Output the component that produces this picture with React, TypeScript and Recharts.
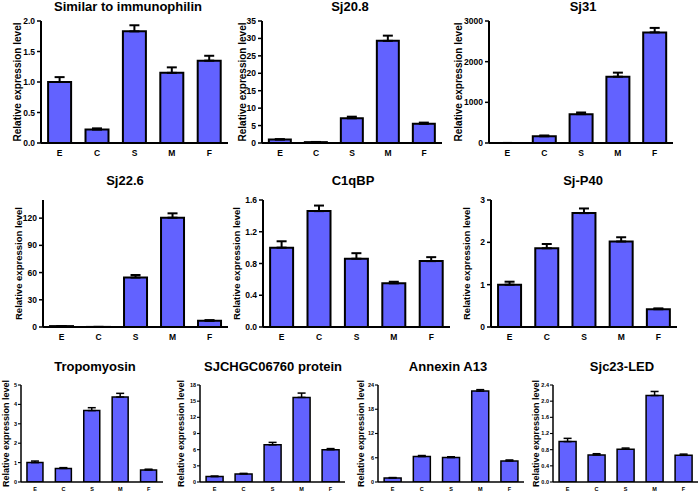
import { BarChart, Bar, XAxis, YAxis, ErrorBar } from 'recharts';

const groups = ['E', 'C', 'S', 'M', 'F'];

// mean relative expression and upper SEM
const immunophilinMean = [1.0, 0.22, 1.83, 1.15, 1.35];
const immunophilinErr = [0.08, 0.02, 0.1, 0.09, 0.08];
const sj208Mean = [1.0, 0.25, 7.1, 29.3, 5.5];
const sj208Err = [0.1, 0.05, 0.45, 1.5, 0.35];
const sj31Mean = [1, 165, 710, 1630, 2720];
const sj31Err = [0, 20, 40, 100, 110];
const sj226Mean = [1.0, 0.1, 54.5, 120.5, 6.8];
const sj226Err = [0.1, 0, 2.8, 4.8, 0.8];
const c1qbpMean = [1.0, 1.46, 0.86, 0.55, 0.83];
const c1qbpErr = [0.08, 0.07, 0.07, 0.02, 0.05];
const sjP40Mean = [1.0, 1.86, 2.69, 2.02, 0.42];
const sjP40Err = [0.07, 0.1, 0.11, 0.1, 0.02];
const tropomyosinMean = [1.0, 0.7, 3.68, 4.38, 0.62];
const tropomyosinErr = [0.08, 0.04, 0.15, 0.19, 0.04];
const sjchgcMean = [1.0, 1.5, 6.9, 15.7, 6.0];
const sjchgcErr = [0.1, 0.1, 0.45, 0.8, 0.2];
const annexinMean = [1.0, 6.3, 6.05, 22.5, 5.2];
const annexinErr = [0.1, 0.25, 0.2, 0.35, 0.25];
const sjc23Mean = [1.0, 0.67, 0.81, 2.14, 0.66];
const sjc23Err = [0.08, 0.03, 0.03, 0.1, 0.03];

const FONT = '"Liberation Sans", Arial, Helvetica, sans-serif';
const BLUE = '#6262ff';

type Box = { left: number; right: number; top: number; bottom: number };

interface PanelProps {
  title: string;
  mean: number[];
  err: number[];
  max: number;
  ticks: number[];
  digits: number;
  box: Box;
  labelX: number;
  labelSize: number;
  titleX: number;
  titleY: number;
  small?: boolean;
}

const YLabel = ({ lx, ly, size }: { lx: number; ly: number; size: number }) => (
  <text
    x={lx}
    y={ly}
    transform={`rotate(-90 ${lx} ${ly})`}
    textAnchor="middle"
    dominantBaseline="central"
    fontFamily={FONT}
    fontWeight="bold"
    fontSize={size}
    fill="#000"
  >
    Relative expression level
  </text>
);

const Panel = ({ title, mean, err, max, ticks, digits, box, labelX, labelSize, titleX, titleY, small }: PanelProps) => {
  const data = groups.map((g, i) => ({ group: g, mean: mean[i], err: [0, err[i]] }));
  const divLeft = labelX - 8;
  const mt = 8;
  const xh = small ? 11 : 20;
  const divTop = box.top - mt;
  const width = box.right - divLeft + 3;
  const height = box.bottom - divTop + xh;
  const tickFont = small ? 5.5 : 8.5;
  const lw = small ? 1.5 : 2;
  const tickStyle = { fontSize: tickFont, fontWeight: 'bold', fill: '#000', fontFamily: FONT };

  return (
    <>
      <div
        style={{
          position: 'absolute',
          left: titleX - 100,
          top: titleY - 11,
          width: 200,
          textAlign: 'center',
          fontFamily: FONT,
          fontWeight: 'bold',
          fontSize: 13,
          lineHeight: '13px',
          whiteSpace: 'nowrap',
        }}
      >
        {title}
      </div>
      <div style={{ position: 'absolute', left: divLeft, top: divTop }}>
        <BarChart
          width={width}
          height={height}
          data={data}
          margin={{ top: mt, right: 3, bottom: 0, left: 0 }}
          barCategoryGap={small ? '21%' : '19%'}
        >
          <XAxis
            dataKey="group"
            interval={0}
            height={xh}
            tickLine={false}
            tickSize={small ? 4 : 5}
            tickMargin={small ? 1 : 2}
            axisLine={{ stroke: '#000', strokeWidth: lw }}
            tick={tickStyle}
          />
          <YAxis
            width={box.left - divLeft}
            domain={[0, max]}
            ticks={ticks}
            allowDataOverflow
            tickFormatter={(v: number) => v.toFixed(digits)}
            tickSize={small ? 3 : 4}
            tickMargin={small ? 1 : 2}
            tickLine={{ stroke: '#000', strokeWidth: lw * 0.75 }}
            axisLine={{ stroke: '#000', strokeWidth: lw }}
            tick={tickStyle}
            label={<YLabel lx={labelX - divLeft} ly={(box.top + box.bottom) / 2 - divTop} size={labelSize} />}
          />
          <Bar dataKey="mean" fill={BLUE} stroke="#000" strokeWidth={lw} isAnimationActive={false}>
            <ErrorBar
              dataKey="err"
              direction="y"
              width={small ? 4 : 5}
              stroke="#000"
              strokeWidth={lw}
              isAnimationActive={false}
            />
          </Bar>
        </BarChart>
      </div>
    </>
  );
};

const App = () => {
  return (
    <div
      style={{
        position: 'absolute',
        left: 0,
        top: 0,
        width: 700,
        height: 493,
        overflow: 'hidden',
        background: '#fff',
      }}
    >
      <Panel title="Similar to immunophilin" mean={immunophilinMean} err={immunophilinErr} max={2}
        ticks={[0, 0.5, 1, 1.5, 2]} digits={1} box={{ left: 41, right: 228, top: 21, bottom: 143 }}
        labelX={17} labelSize={10} titleX={128} titleY={11} />
      <Panel title="Sj20.8" mean={sj208Mean} err={sj208Err} max={35}
        ticks={[0, 5, 10, 15, 20, 25, 30, 35]} digits={0} box={{ left: 262, right: 442, top: 21, bottom: 143 }}
        labelX={242} labelSize={10} titleX={350} titleY={11} />
      <Panel title="Sj31" mean={sj31Mean} err={sj31Err} max={3000}
        ticks={[0, 1000, 2000, 3000]} digits={0} box={{ left: 489, right: 673, top: 21, bottom: 143 }}
        labelX={458} labelSize={10} titleX={583} titleY={11} />

      <Panel title="Sj22.6" mean={sj226Mean} err={sj226Err} max={140}
        ticks={[0, 30, 60, 90, 120]} digits={0} box={{ left: 43, right: 228, top: 200, bottom: 327 }}
        labelX={18} labelSize={9.5} titleX={125} titleY={185} />
      <Panel title="C1qBP" mean={c1qbpMean} err={c1qbpErr} max={1.6}
        ticks={[0, 0.4, 0.8, 1.2, 1.6]} digits={1} box={{ left: 263, right: 450, top: 200, bottom: 327 }}
        labelX={236} labelSize={9.5} titleX={353} titleY={185} />
      <Panel title="Sj-P40" mean={sjP40Mean} err={sjP40Err} max={3}
        ticks={[0, 1, 2, 3]} digits={0} box={{ left: 491, right: 677, top: 200, bottom: 327 }}
        labelX={466} labelSize={9.5} titleX={583} titleY={185} />

      <Panel title="Tropomyosin" mean={tropomyosinMean} err={tropomyosinErr} max={5}
        ticks={[0, 1, 2, 3, 4, 5]} digits={0} box={{ left: 21, right: 163, top: 385, bottom: 482 }}
        labelX={6} labelSize={9} titleX={95} titleY={371} small />
      <Panel title="SJCHGC06760 protein" mean={sjchgcMean} err={sjchgcErr} max={18}
        ticks={[0, 3, 6, 9, 12, 15, 18]} digits={0} box={{ left: 200, right: 345, top: 385, bottom: 482 }}
        labelX={181} labelSize={9} titleX={273} titleY={371} small />
      <Panel title="Annexin A13" mean={annexinMean} err={annexinErr} max={24}
        ticks={[0, 6, 12, 18, 24]} digits={0} box={{ left: 378, right: 524, top: 385, bottom: 482 }}
        labelX={361} labelSize={9} titleX={448} titleY={371} small />
      <Panel title="Sjc23-LED" mean={sjc23Mean} err={sjc23Err} max={2.4}
        ticks={[0, 0.4, 0.8, 1.2, 1.6, 2.0, 2.4]} digits={1} box={{ left: 553, right: 698, top: 385, bottom: 482 }}
        labelX={536} labelSize={9} titleX={622} titleY={371} small />
    </div>
  );
};

export default App;
